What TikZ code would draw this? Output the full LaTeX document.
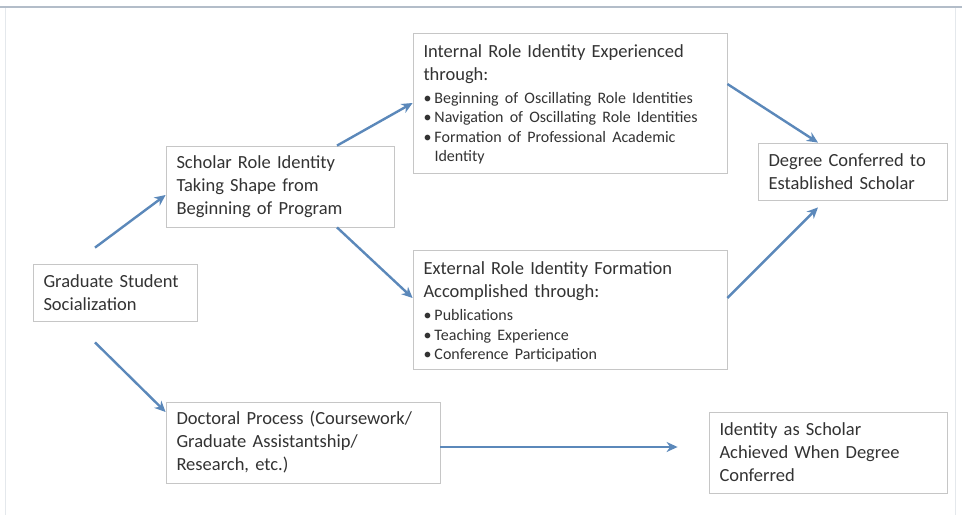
\documentclass[tikz,border=0pt]{standalone}
\usepackage{fontspec}
\setmainfont{Carlito}
\usetikzlibrary{arrows.meta}
\definecolor{flowblue}{HTML}{5B88BA}
\definecolor{boxgray}{HTML}{C6C6C6}
\definecolor{txtgray}{HTML}{333333}
\definecolor{framegray}{HTML}{B3BDC9}
\newcommand{\rolepts}[1]{{\fontsize{16}{19.5}\selectfont
    \begin{tabular}[t]{@{}l@{}l@{}}#1\end{tabular}}}
\newcommand{\rb}{\makebox[11pt][l]{\textbullet}}

\begin{document}
\begin{tikzpicture}[x=1pt, y=-1pt,
    box/.style={draw=boxgray, line width=0.8pt, fill=white, text=txtgray, align=left,
        inner xsep=10.5pt, font=\fontsize{18.5}{23}\selectfont},
    flow/.style={draw=flowblue, line width=2.4pt, -{Stealth[length=11pt, width=10pt, inset=3.5pt]}}]
    \useasboundingbox (0,0) rectangle (962,515);
    % frame
    \fill[white] (0,0) rectangle (962,515);
    \draw[framegray!35, line width=1pt] (5,7) -- (5,515) (955,7) -- (955,515);
    \draw[framegray, line width=2.5pt] (0,7) -- (962,7);

    % socialization
    \node[box, text width=143pt, minimum width=164pt, minimum height=57pt] (grad) at (115,292.5) {
        Graduate Student\\
        Socialization
    };

    % scholar role identity
    \node[box, text width=207pt, minimum width=228pt, minimum height=81pt] (scholar) at (280,186.5) {
        Scholar Role Identity\\
        Taking Shape from\\
        Beginning of Program
    };

    % internal role identity
    \node[box, text width=293pt, minimum width=314pt, minimum height=140pt] (internal) at (570,103) {
        \rule{0pt}{19pt}Internal Role Identity Experienced\\
        through:\\
        \rolepts{\rb & Beginning of Oscillating Role Identities\\
                 \rb & Navigation of Oscillating Role Identities\\
                 \rb & Formation of Professional Academic\\
                     & Identity}
    };

    % external role identity
    \node[box, text width=293pt, minimum width=314pt, minimum height=119pt] (external) at (570,309.5) {
        \rule{0pt}{21pt}External Role Identity Formation\\
        Accomplished through:\\
        \rolepts{\rb & Publications\\
                 \rb & Teaching Experience\\
                 \rb & Conference Participation}
    };

    % degree conferred
    \node[box, text width=168pt, minimum width=189pt, minimum height=57pt] (degree) at (852.5,171.5) {
        Degree Conferred to\\
        Established Scholar
    };

    % doctoral process
    \node[box, text width=253pt, minimum width=274pt, minimum height=81pt] (doctoral) at (303,442.5) {
        Doctoral Process (Coursework/\\
        Graduate Assistantship/\\
        Research, etc.)
    };

    % identity as scholar
    \node[box, text width=217pt, minimum width=238pt, minimum height=81pt] (identity) at (828,452.5) {
        Identity as Scholar\\
        Achieved When Degree\\
        Conferred
    };

    % arrows
    \draw[flow] ([xshift=-20pt, yshift=16pt]grad.north) -- ([yshift=-8.5pt]scholar.west);
    \draw[flow] ([xshift=-20pt, yshift=-21pt]grad.south) -- ([yshift=30.5pt]doctoral.west);
    \draw[flow] ([xshift=57pt]scholar.north) -- (internal.west);
    \draw[flow] ([xshift=57pt]scholar.south) -- ([yshift=11.5pt]external.west);
    \draw[flow] ([yshift=19pt]internal.east) -- ([xshift=-34.5pt]degree.north);
    \draw[flow] ([yshift=11.5pt]external.east) -- ([xshift=-34.5pt, yshift=-7pt]degree.south);
    \draw[flow] ([yshift=-4.5pt]doctoral.east) -- ([xshift=-31pt, yshift=5.5pt]identity.west);
\end{tikzpicture}
\end{document}
